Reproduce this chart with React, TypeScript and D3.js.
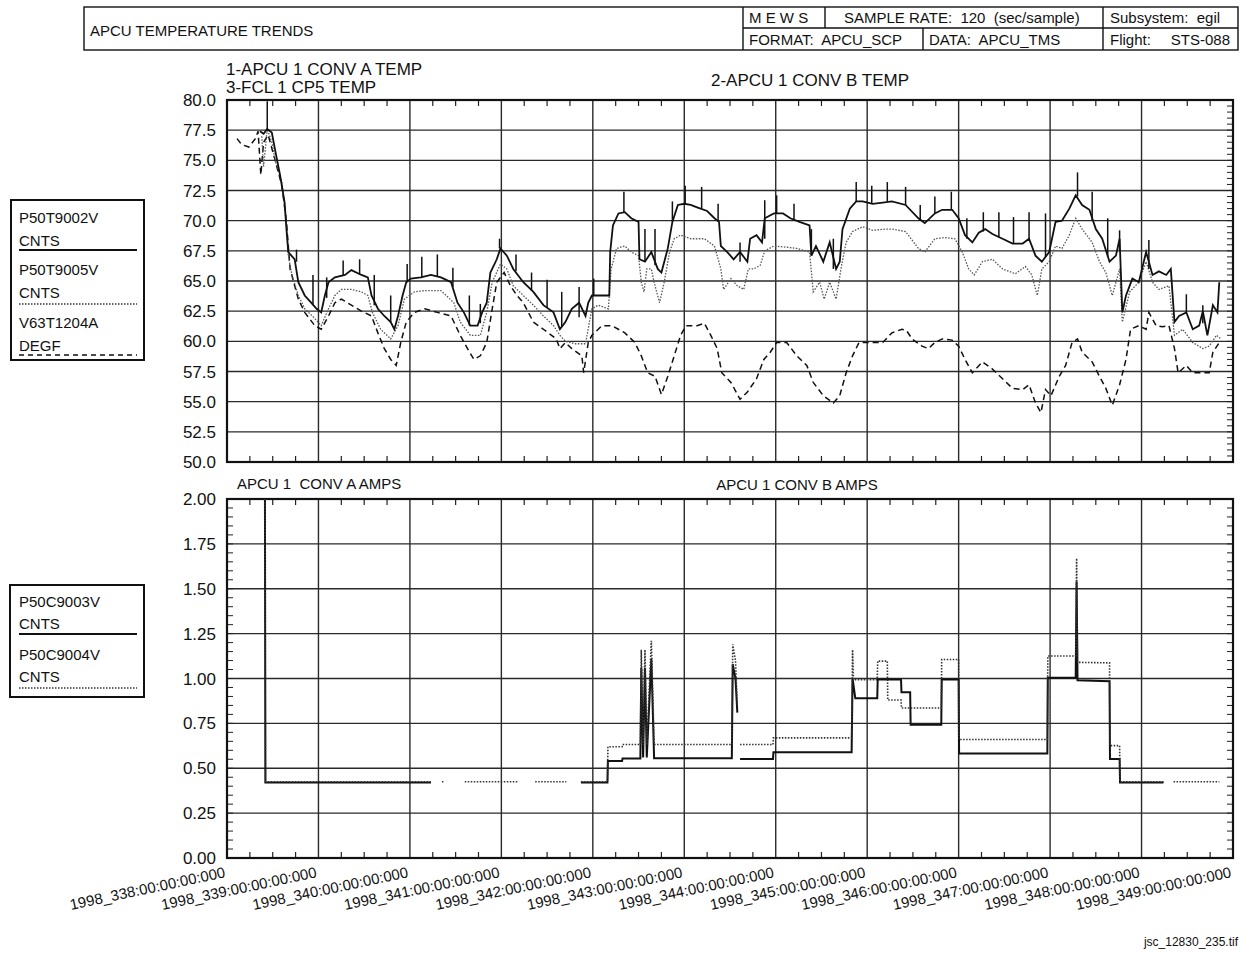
import React, { useEffect, useRef } from 'react';
import * as d3 from 'd3';

const W = 1246;
const H = 956;
const FONT = 'Liberation Sans, Arial, Helvetica, sans-serif';

// ---- axis definitions ----
const dayTicks = [338, 339, 340, 341, 342, 343, 344, 345, 346, 347, 348, 349];
const dayLabels = [
  '1998_338:00:00:00:000', '1998_339:00:00:00:000', '1998_340:00:00:00:000', '1998_341:00:00:00:000',
  '1998_342:00:00:00:000', '1998_343:00:00:00:000', '1998_344:00:00:00:000', '1998_345:00:00:00:000',
  '1998_346:00:00:00:000', '1998_347:00:00:00:000', '1998_348:00:00:00:000', '1998_349:00:00:00:000',
];
const tempTicks = [50, 52.5, 55, 57.5, 60, 62.5, 65, 67.5, 70, 72.5, 75, 77.5, 80];
const tempTickLabels = ['50.0', '52.5', '55.0', '57.5', '60.0', '62.5', '65.0', '67.5', '70.0', '72.5', '75.0', '77.5', '80.0'];
const ampTicks = [0, 0.25, 0.5, 0.75, 1, 1.25, 1.5, 1.75, 2];
const ampTickLabels = ['0.00', '0.25', '0.50', '0.75', '1.00', '1.25', '1.50', '1.75', '2.00'];

// ---- 1-APCU 1 CONV A TEMP (P50T9002V, solid) [day, value] ----
const convATemp: [number, number][] = [
  [338.36, 77.4], [338.40, 77.2], [338.44, 77.6], [338.49, 77.3], [338.53, 75.7], [338.58, 73.8], [338.63, 71.5],
  [338.65, 69.3], [338.67, 67.4], [338.74, 66.8], [338.78, 64.9], [338.85, 63.8], [338.92, 63.2], [338.98, 62.7],
  [339.03, 62.4], [339.07, 63.8], [339.11, 64.9], [339.18, 65.3], [339.29, 65.5], [339.36, 65.9], [339.47, 65.5],
  [339.54, 65.3], [339.58, 63.8], [339.65, 62.7], [339.72, 62.1], [339.79, 61.6], [339.83, 61.0], [339.87, 62.1],
  [339.92, 63.8], [339.96, 64.9], [340.01, 65.2], [340.12, 65.3], [340.23, 65.5], [340.34, 65.3], [340.45, 64.9],
  [340.52, 63.2], [340.59, 62.4], [340.66, 61.3], [340.74, 61.3], [340.79, 62.4], [340.84, 63.2], [340.88, 65.7],
  [340.95, 66.8], [340.99, 67.7], [341.06, 67.1], [341.13, 66.0], [341.24, 64.9], [341.35, 64.1], [341.46, 63.0],
  [341.57, 62.4], [341.64, 61.0], [341.70, 61.6], [341.77, 62.7], [341.85, 63.2], [341.92, 62.1], [341.95, 63.2],
  [341.99, 63.8], [342.10, 63.8], [342.18, 63.8], [342.19, 67.4], [342.22, 69.6], [342.28, 70.6], [342.35, 70.7],
  [342.42, 70.2], [342.50, 69.9], [342.51, 66.8], [342.57, 66.6], [342.64, 67.4], [342.71, 66.0], [342.75, 65.7],
  [342.82, 67.7], [342.87, 69.9], [342.93, 71.3], [343.00, 71.4], [343.07, 71.3], [343.14, 71.1], [343.25, 70.8],
  [343.33, 70.2], [343.38, 69.9], [343.40, 67.9], [343.47, 67.4], [343.54, 66.8], [343.61, 67.4], [343.69, 66.6],
  [343.72, 68.5], [343.79, 68.8], [343.85, 68.2], [343.88, 70.2], [343.98, 70.6], [344.08, 70.6], [344.16, 70.2],
  [344.26, 69.9], [344.37, 69.6], [344.39, 67.1], [344.44, 67.9], [344.52, 66.6], [344.59, 68.2], [344.66, 66.0],
  [344.70, 66.6], [344.73, 69.3], [344.81, 71.0], [344.88, 71.6], [344.95, 71.6], [345.06, 71.4], [345.17, 71.5],
  [345.27, 71.6], [345.42, 71.3], [345.56, 70.2], [345.63, 69.8], [345.74, 70.6], [345.82, 70.9], [345.93, 70.9],
  [346.00, 70.2], [346.07, 68.8], [346.15, 68.2], [346.22, 69.0], [346.29, 69.3], [346.37, 68.9], [346.48, 68.5],
  [346.59, 68.1], [346.70, 68.1], [346.77, 68.5], [346.84, 67.1], [346.91, 66.6], [346.99, 67.4], [347.06, 69.9],
  [347.13, 70.0], [347.21, 71.0], [347.28, 72.1], [347.35, 71.3], [347.43, 70.9], [347.50, 69.3], [347.57, 68.5],
  [347.65, 66.6], [347.72, 67.1], [347.76, 68.5], [347.79, 62.4], [347.83, 63.8], [347.90, 65.2], [347.97, 64.9],
  [348.05, 67.4], [348.12, 65.5], [348.19, 65.8], [348.27, 65.5], [348.32, 66.0], [348.36, 61.6], [348.41, 62.1],
  [348.49, 62.4], [348.56, 61.0], [348.63, 61.3], [348.67, 62.5], [348.72, 60.5], [348.78, 63.0], [348.83, 62.4],
  [348.85, 64.9],
];

// short upward spikes on CONV A TEMP: [day, base, peak]
const convATempSpikes: [number, number, number][] = [
  [338.44, 77.4, 79.9], [338.76, 66.6, 67.6], [338.94, 63.0, 65.5], [339.09, 63.6, 65.3], [339.27, 65.5, 66.7],
  [339.45, 65.5, 66.8], [339.61, 63.0, 65.5], [339.79, 61.6, 63.8], [339.97, 64.9, 66.4], [340.13, 65.3, 67.0],
  [340.30, 65.4, 67.2], [340.47, 64.5, 66.1], [340.65, 61.3, 63.8], [340.77, 61.5, 63.1], [340.98, 67.7, 68.5],
  [341.16, 65.8, 67.2], [341.33, 64.2, 65.7], [341.50, 62.8, 65.1], [341.66, 61.2, 64.1], [341.85, 62.0, 64.5],
  [342.01, 63.8, 65.2], [342.34, 70.7, 72.4], [342.57, 66.6, 69.3], [342.68, 66.3, 69.3], [342.87, 69.9, 71.6],
  [343.01, 71.4, 72.9], [343.19, 71.0, 72.8], [343.37, 69.9, 71.4], [343.61, 66.6, 68.2], [343.88, 68.5, 71.7],
  [344.01, 70.6, 72.1], [344.20, 70.0, 71.4], [344.39, 67.1, 69.3], [344.63, 66.0, 68.5], [344.88, 71.6, 73.2],
  [345.05, 71.4, 72.9], [345.22, 71.6, 73.2], [345.42, 71.3, 72.8], [345.58, 70.0, 71.3], [345.74, 70.6, 72.0],
  [345.92, 70.9, 72.4], [346.09, 68.5, 70.2], [346.27, 69.1, 70.7], [346.44, 68.6, 70.7], [346.60, 68.1, 70.3],
  [346.77, 68.5, 70.7], [346.95, 67.0, 70.6], [347.30, 72.0, 74.0], [347.46, 70.0, 72.4], [347.63, 67.0, 70.2],
  [347.76, 67.5, 69.2], [348.08, 66.0, 68.4], [348.49, 62.4, 63.9], [348.67, 61.5, 63.0],
];

// ---- 2-APCU 1 CONV B TEMP (P50T9005V, dotted) ----
const convBTemp: [number, number][] = [
  [338.38, 77.0], [338.40, 74.5], [338.44, 77.6], [338.49, 76.5], [338.53, 74.9], [338.60, 73.2], [338.65, 69.9],
  [338.67, 67.1], [338.71, 65.5], [338.78, 63.8], [338.85, 62.7], [338.96, 61.9], [339.03, 61.3], [339.11, 62.7],
  [339.18, 63.8], [339.25, 64.3], [339.36, 64.3], [339.47, 64.1], [339.54, 63.8], [339.59, 62.4], [339.68, 61.0],
  [339.79, 60.2], [339.87, 61.3], [339.94, 63.5], [340.05, 64.1], [340.16, 64.2], [340.34, 64.2], [340.48, 63.2],
  [340.55, 61.6], [340.66, 60.5], [340.77, 60.5], [340.84, 62.4], [340.90, 64.9], [340.99, 66.4], [341.06, 66.0],
  [341.13, 64.6], [341.24, 63.8], [341.35, 63.0], [341.46, 62.1], [341.57, 61.3], [341.64, 60.5], [341.70, 60.0],
  [341.81, 59.8], [341.92, 59.8], [341.99, 62.7], [342.06, 63.0], [342.17, 62.7], [342.20, 66.0], [342.26, 67.7],
  [342.35, 67.9], [342.42, 67.4], [342.50, 67.1], [342.53, 64.9], [342.56, 64.1], [342.59, 66.0], [342.64, 66.0],
  [342.67, 64.9], [342.73, 63.2], [342.78, 64.9], [342.84, 67.4], [342.89, 68.5], [342.96, 68.8], [343.07, 68.5],
  [343.22, 68.5], [343.33, 67.9], [343.40, 66.0], [343.43, 64.3], [343.51, 65.2], [343.58, 64.6], [343.65, 64.3],
  [343.70, 66.0], [343.76, 66.0], [343.83, 66.3], [343.88, 67.5], [343.98, 67.9], [344.12, 67.8], [344.23, 67.7],
  [344.37, 67.4], [344.41, 64.1], [344.48, 64.9], [344.53, 63.5], [344.59, 64.9], [344.66, 63.5], [344.72, 66.3],
  [344.77, 68.2], [344.84, 69.1], [344.95, 69.5], [345.06, 69.2], [345.20, 69.3], [345.27, 69.3], [345.42, 69.1],
  [345.56, 67.7], [345.63, 67.4], [345.74, 68.5], [345.85, 68.6], [345.96, 68.5], [346.04, 67.4], [346.11, 66.0],
  [346.17, 65.5], [346.26, 66.6], [346.37, 66.8], [346.48, 66.0], [346.62, 65.6], [346.73, 66.2], [346.80, 65.5],
  [346.86, 63.8], [346.91, 66.0], [346.99, 66.6], [347.06, 67.9], [347.13, 67.7], [347.21, 68.8], [347.28, 70.2],
  [347.35, 69.3], [347.46, 68.2], [347.54, 66.6], [347.61, 65.7], [347.68, 63.8], [347.76, 66.0], [347.79, 61.6],
  [347.87, 64.1], [347.97, 64.9], [348.05, 66.6], [348.12, 64.9], [348.19, 64.3], [348.30, 64.6], [348.36, 60.5],
  [348.45, 61.0], [348.56, 59.9], [348.67, 59.4], [348.74, 59.6], [348.82, 60.5], [348.87, 60.2],
];

// ---- 3-FCL 1 CP5 TEMP (V63T1204A, DEGF, dashed) ----
const fclTemp: [number, number][] = [
  [338.11, 76.8], [338.16, 76.3], [338.24, 76.1], [338.31, 76.8], [338.34, 77.4], [338.37, 73.8], [338.40, 76.5],
  [338.45, 77.1], [338.53, 74.9], [338.60, 72.9], [338.65, 69.9], [338.69, 66.0], [338.78, 63.5], [338.85, 62.4],
  [338.96, 61.3], [339.03, 61.0], [339.11, 62.1], [339.18, 63.2], [339.25, 63.5], [339.36, 63.0], [339.47, 62.5],
  [339.58, 62.1], [339.65, 60.7], [339.72, 59.4], [339.79, 58.5], [339.85, 58.0], [339.90, 59.9], [339.96, 61.6],
  [340.05, 62.4], [340.16, 62.7], [340.30, 62.4], [340.45, 62.1], [340.55, 60.5], [340.63, 59.4], [340.70, 58.5],
  [340.77, 58.8], [340.84, 59.9], [340.90, 62.7], [340.95, 64.9], [341.03, 65.7], [341.10, 64.6], [341.17, 63.8],
  [341.24, 63.2], [341.35, 61.6], [341.46, 61.0], [341.60, 60.2], [341.64, 59.4], [341.70, 59.9], [341.77, 59.4],
  [341.88, 58.8], [341.90, 57.4], [341.95, 59.9], [341.99, 60.5], [342.10, 61.3], [342.21, 61.3], [342.35, 60.7],
  [342.46, 59.9], [342.53, 58.8], [342.60, 57.4], [342.68, 57.1], [342.75, 55.6], [342.82, 57.1], [342.89, 58.8],
  [342.96, 60.5], [343.02, 61.3], [343.14, 61.3], [343.22, 61.5], [343.29, 60.5], [343.36, 59.4], [343.41, 57.4],
  [343.51, 56.6], [343.61, 55.2], [343.69, 55.8], [343.79, 56.9], [343.87, 58.5], [343.94, 59.1], [344.01, 59.9],
  [344.12, 59.9], [344.23, 58.8], [344.34, 58.0], [344.41, 56.6], [344.52, 55.5], [344.63, 54.9], [344.70, 55.5],
  [344.77, 57.4], [344.84, 58.8], [344.91, 59.9], [345.06, 59.9], [345.17, 59.9], [345.27, 60.7], [345.38, 61.0],
  [345.43, 60.9], [345.49, 60.2], [345.60, 59.6], [345.67, 59.4], [345.74, 59.9], [345.82, 60.2], [345.93, 60.1],
  [346.00, 59.6], [346.07, 58.5], [346.15, 57.4], [346.26, 58.3], [346.37, 57.7], [346.48, 56.9], [346.59, 56.1],
  [346.70, 56.0], [346.77, 56.4], [346.84, 54.9], [346.90, 54.1], [346.95, 56.0], [347.01, 55.5], [347.10, 57.1],
  [347.17, 58.0], [347.24, 59.9], [347.30, 60.2], [347.35, 59.1], [347.46, 58.3], [347.54, 57.1], [347.61, 56.1],
  [347.68, 54.7], [347.76, 56.4], [347.83, 58.5], [347.88, 61.0], [347.97, 61.3], [348.05, 61.0], [348.08, 62.4],
  [348.16, 61.3], [348.23, 61.2], [348.30, 61.3], [348.36, 59.4], [348.40, 57.4], [348.49, 58.0], [348.56, 57.4],
  [348.67, 57.4], [348.74, 57.4], [348.78, 59.1], [348.85, 59.9],
];

// ---- APCU 1 CONV A AMPS (P50C9003V, solid); null = data gap ----
const convAAmps: [number, number | null][] = [
  [338.415, 2.0], [338.42, 0.42], [339.3, 0.42], [340.23, 0.42], [340.24, null],
  [341.87, 0.42], [342.16, 0.42], [342.165, 0.54], [342.32, 0.54], [342.325, 0.555], [342.52, 0.555],
  [342.53, 1.06], [342.55, 0.56], [342.57, 1.06], [342.59, 0.56], [342.64, 1.11], [342.67, 0.556],
  [343.52, 0.556], [343.53, 1.08], [343.56, 1.0], [343.58, 0.81], [343.59, null],
  [343.61, 0.552], [343.97, 0.552], [343.975, 0.589], [344.83, 0.589], [344.84, 1.0], [344.87, 0.89],
  [345.11, 0.89], [345.115, 0.994], [345.37, 0.994], [345.375, 0.924], [345.47, 0.924], [345.475, 0.743],
  [345.81, 0.743], [345.815, 0.994], [346.0, 0.994], [346.005, 0.582], [346.97, 0.582], [346.975, 1.004],
  [347.28, 1.004], [347.29, 1.54], [347.30, 0.99], [347.65, 0.985], [347.655, 0.552], [347.76, 0.552],
  [347.765, 0.42], [348.24, 0.42],
];

// ---- APCU 1 CONV B AMPS (P50C9004V, dotted) ----
const convBAmps: [number, number | null][] = [
  [338.415, 2.0], [338.42, 0.425], [339.3, 0.425], [340.23, 0.425], [340.24, null],
  [340.35, 0.425], [340.37, 0.425], [340.38, null],
  [340.60, 0.425], [341.18, 0.425], [341.19, null],
  [341.37, 0.425], [341.71, 0.425], [341.72, null],
  [341.87, 0.425], [342.16, 0.425], [342.165, 0.62], [342.32, 0.62], [342.325, 0.632], [342.52, 0.632],
  [342.53, 1.16], [342.55, 0.63], [342.57, 1.16], [342.59, 0.63], [342.64, 1.21], [342.67, 0.632],
  [343.52, 0.632], [343.53, 1.19], [343.56, 1.1], [343.58, 0.85], [343.59, null],
  [343.61, 0.632], [343.97, 0.632], [343.975, 0.669], [344.83, 0.669], [344.84, 1.16], [344.85, 0.994],
  [345.11, 0.994], [345.115, 1.097], [345.22, 1.097], [345.225, 0.88], [345.37, 0.88], [345.375, 0.836],
  [345.81, 0.836], [345.815, 1.106], [346.0, 1.106], [346.005, 0.66], [346.97, 0.66], [346.975, 1.125],
  [347.28, 1.125], [347.29, 1.67], [347.30, 1.09], [347.65, 1.087], [347.655, 0.626], [347.76, 0.626],
  [347.765, 0.425], [348.24, 0.425], [348.25, null], [348.35, 0.425], [348.85, 0.425],
];

// ---- layout ----
const PL = 227;
const PR = 1233;
const T_TOP = 100;
const T_BOT = 462;
const A_TOP = 499;
const A_BOT = 858;

export default function App() {
  const ref = useRef<SVGSVGElement>(null);

  useEffect(() => {
    const svg = d3.select(ref.current);
    svg.selectAll('*').remove();
    svg.style('font-family', FONT);

    const x = d3.scaleLinear().domain([338, 349]).range([PL, PR]);
    const yT = d3.scaleLinear().domain([50, 80]).range([T_BOT, T_TOP]);
    const yA = d3.scaleLinear().domain([0, 2]).range([A_BOT, A_TOP]);

    const defs = svg.append('defs');
    defs.append('clipPath').attr('id', 'clipT').append('rect')
      .attr('x', PL).attr('y', T_TOP).attr('width', PR - PL).attr('height', T_BOT - T_TOP);
    defs.append('clipPath').attr('id', 'clipA').append('rect')
      .attr('x', PL).attr('y', A_TOP - 1).attr('width', PR - PL).attr('height', A_BOT - A_TOP + 1);

    svg.append('rect').attr('width', W).attr('height', H).attr('fill', '#fff');

    // ---- header ----
    const hg = svg.append('g').attr('stroke', '#111').attr('fill', 'none').attr('stroke-width', 1.4);
    hg.append('rect').attr('x', 84).attr('y', 7).attr('width', 1154).attr('height', 43);
    hg.append('line').attr('x1', 743).attr('x2', 743).attr('y1', 7).attr('y2', 50);
    hg.append('line').attr('x1', 743).attr('x2', 1238).attr('y1', 28).attr('y2', 28);
    hg.append('line').attr('x1', 825).attr('x2', 825).attr('y1', 7).attr('y2', 28);
    hg.append('line').attr('x1', 923).attr('x2', 923).attr('y1', 28).attr('y2', 50);
    hg.append('line').attr('x1', 1103).attr('x2', 1103).attr('y1', 7).attr('y2', 50);
    const ht = svg.append('g').attr('font-size', 15).attr('fill', '#111');
    ht.append('text').attr('x', 90).attr('y', 36).text('APCU TEMPERATURE TRENDS');
    ht.append('text').attr('x', 749).attr('y', 23).text('M E W S');
    ht.append('text').attr('x', 844).attr('y', 23).attr('xml:space', 'preserve').text('SAMPLE RATE:  120  (sec/sample)');
    ht.append('text').attr('x', 1110).attr('y', 23).attr('xml:space', 'preserve').text('Subsystem:  egil');
    ht.append('text').attr('x', 749).attr('y', 45).attr('xml:space', 'preserve').text('FORMAT:  APCU_SCP');
    ht.append('text').attr('x', 929).attr('y', 45).attr('xml:space', 'preserve').text('DATA:  APCU_TMS');
    ht.append('text').attr('x', 1110).attr('y', 45).attr('xml:space', 'preserve').text('Flight:');
    ht.append('text').attr('x', 1230).attr('y', 45).attr('text-anchor', 'end').text('STS-088');

    // ---- titles ----
    const tt = svg.append('g').attr('font-size', 17).attr('fill', '#111');
    tt.append('text').attr('x', 226).attr('y', 75).text('1-APCU 1 CONV A TEMP');
    tt.append('text').attr('x', 226).attr('y', 93).text('3-FCL 1 CP5 TEMP');
    tt.append('text').attr('x', 810).attr('y', 86).attr('text-anchor', 'middle').text('2-APCU 1 CONV B TEMP');
    const at = svg.append('g').attr('font-size', 15).attr('fill', '#111');
    at.append('text').attr('x', 237).attr('y', 489).attr('xml:space', 'preserve').text('APCU 1  CONV A AMPS');
    at.append('text').attr('x', 797).attr('y', 490).attr('text-anchor', 'middle').text('APCU 1 CONV B AMPS');

    // ---- grids / frames ----
    const drawFrame = (top: number, bot: number, yScale: d3.ScaleLinear<number, number>, ticks: number[],
      labels: string[], minorStep: number, leftMinor: boolean) => {
      const g = svg.append('g');
      ticks.forEach((t) => {
        g.append('line').attr('x1', PL).attr('x2', PR).attr('y1', yScale(t)).attr('y2', yScale(t))
          .attr('stroke', '#2a2a2a').attr('stroke-width', 1.4);
      });
      dayTicks.forEach((d) => {
        g.append('line').attr('x1', x(d)).attr('x2', x(d)).attr('y1', top).attr('y2', bot)
          .attr('stroke', '#2a2a2a').attr('stroke-width', 1.4);
      });
      const mx = d3.range(338, 349.001, 0.25).filter((v) => Math.abs(v - Math.round(v)) > 0.01);
      mx.forEach((v) => {
        g.append('line').attr('x1', x(v)).attr('x2', x(v)).attr('y1', top).attr('y2', top + 6)
          .attr('stroke', '#222').attr('stroke-width', 1.2);
        g.append('line').attr('x1', x(v)).attr('x2', x(v)).attr('y1', bot).attr('y2', bot - 6)
          .attr('stroke', '#222').attr('stroke-width', 1.2);
      });
      const [y0, y1] = yScale.domain();
      const my = d3.range(y0, y1 + minorStep / 2, minorStep);
      my.forEach((v) => {
        g.append('line').attr('x1', PR).attr('x2', PR - 6).attr('y1', yScale(v)).attr('y2', yScale(v))
          .attr('stroke', '#222').attr('stroke-width', 1);
        if (leftMinor) {
          g.append('line').attr('x1', PL).attr('x2', PL + 6).attr('y1', yScale(v)).attr('y2', yScale(v))
            .attr('stroke', '#222').attr('stroke-width', 1);
        }
      });
      g.append('rect').attr('x', PL).attr('y', top).attr('width', PR - PL).attr('height', bot - top)
        .attr('fill', 'none').attr('stroke', '#111').attr('stroke-width', 2.2);
      ticks.forEach((t, i) => {
        g.append('text').attr('x', 216).attr('y', yScale(t) + 6).attr('text-anchor', 'end')
          .attr('font-size', 17).attr('fill', '#111').text(labels[i]);
      });
    };
    drawFrame(T_TOP, T_BOT, yT, tempTicks, tempTickLabels, 0.5, false);
    drawFrame(A_TOP, A_BOT, yA, ampTicks, ampTickLabels, 0.05, true);

    // ---- x labels ----
    const xl = svg.append('g').attr('font-size', 15).attr('fill', '#111');
    dayTicks.forEach((d, i) => {
      xl.append('text').attr('transform', `translate(${x(d) - 1},${877}) rotate(-12)`)
        .attr('text-anchor', 'end').text(dayLabels[i]);
    });
    svg.append('text').attr('x', 1238).attr('y', 946).attr('text-anchor', 'end').attr('font-size', 12)
      .attr('fill', '#111').text('jsc_12830_235.tif');

    // ---- temperature lines ----
    const tLine = d3.line<[number, number]>().x((d) => x(d[0])).y((d) => yT(d[1]));
    const tg = svg.append('g').attr('clip-path', 'url(#clipT)').attr('fill', 'none');
    tg.append('path').datum(fclTemp).attr('d', tLine).attr('stroke', '#111').attr('stroke-width', 1.5)
      .attr('stroke-dasharray', '6,4');
    tg.append('path').datum(convBTemp).attr('d', tLine).attr('stroke', '#555').attr('stroke-width', 1.3)
      .attr('stroke-dasharray', '1.5,1.5');
    tg.append('path').datum(convATemp).attr('d', tLine).attr('stroke', '#111').attr('stroke-width', 1.8);
    convATempSpikes.forEach((s) => {
      tg.append('line').attr('x1', x(s[0])).attr('x2', x(s[0])).attr('y1', yT(s[1])).attr('y2', yT(s[2]))
        .attr('stroke', '#111').attr('stroke-width', 1.5);
    });

    // ---- amps lines ----
    const aLine = d3.line<[number, number | null]>().defined((d) => d[1] !== null)
      .x((d) => x(d[0])).y((d) => yA(d[1] as number));
    const ag = svg.append('g').attr('clip-path', 'url(#clipA)').attr('fill', 'none');
    ag.append('path').datum(convAAmps).attr('d', aLine).attr('stroke', '#111').attr('stroke-width', 2);
    ag.append('path').datum(convBAmps).attr('d', aLine).attr('stroke', '#333').attr('stroke-width', 1.6)
      .attr('stroke-dasharray', '1.5,1.5');

    // ---- legends ----
    const lg = svg.append('g');
    lg.append('rect').attr('x', 11).attr('y', 200).attr('width', 133).attr('height', 160)
      .attr('fill', 'none').attr('stroke', '#111').attr('stroke-width', 2);
    const lt = lg.append('g').attr('font-size', 15).attr('fill', '#111');
    lt.append('text').attr('x', 19).attr('y', 223).text('P50T9002V');
    lt.append('text').attr('x', 19).attr('y', 246).text('CNTS');
    lt.append('text').attr('x', 19).attr('y', 275).text('P50T9005V');
    lt.append('text').attr('x', 19).attr('y', 298).text('CNTS');
    lt.append('text').attr('x', 19).attr('y', 328).text('V63T1204A');
    lt.append('text').attr('x', 19).attr('y', 351).text('DEGF');
    lg.append('line').attr('x1', 19).attr('x2', 137).attr('y1', 250).attr('y2', 250)
      .attr('stroke', '#111').attr('stroke-width', 2);
    lg.append('line').attr('x1', 19).attr('x2', 137).attr('y1', 304).attr('y2', 304)
      .attr('stroke', '#333').attr('stroke-width', 1.3).attr('stroke-dasharray', '1.5,1.5');
    lg.append('line').attr('x1', 19).attr('x2', 137).attr('y1', 355).attr('y2', 355)
      .attr('stroke', '#111').attr('stroke-width', 1.5).attr('stroke-dasharray', '5,4');

    lg.append('rect').attr('x', 10).attr('y', 585).attr('width', 134).attr('height', 112)
      .attr('fill', 'none').attr('stroke', '#111').attr('stroke-width', 2);
    const lt2 = lg.append('g').attr('font-size', 15).attr('fill', '#111');
    lt2.append('text').attr('x', 19).attr('y', 607).text('P50C9003V');
    lt2.append('text').attr('x', 19).attr('y', 629).text('CNTS');
    lt2.append('text').attr('x', 19).attr('y', 660).text('P50C9004V');
    lt2.append('text').attr('x', 19).attr('y', 682).text('CNTS');
    lg.append('line').attr('x1', 19).attr('x2', 137).attr('y1', 634).attr('y2', 634)
      .attr('stroke', '#111').attr('stroke-width', 2);
    lg.append('line').attr('x1', 19).attr('x2', 137).attr('y1', 688).attr('y2', 688)
      .attr('stroke', '#333').attr('stroke-width', 1.3).attr('stroke-dasharray', '1.5,1.5');
  }, []);

  return (
    <svg ref={ref} width={W} height={H}
      style={{ position: 'absolute', left: 0, top: 0, background: '#fff', display: 'block' }} />
  );
}
